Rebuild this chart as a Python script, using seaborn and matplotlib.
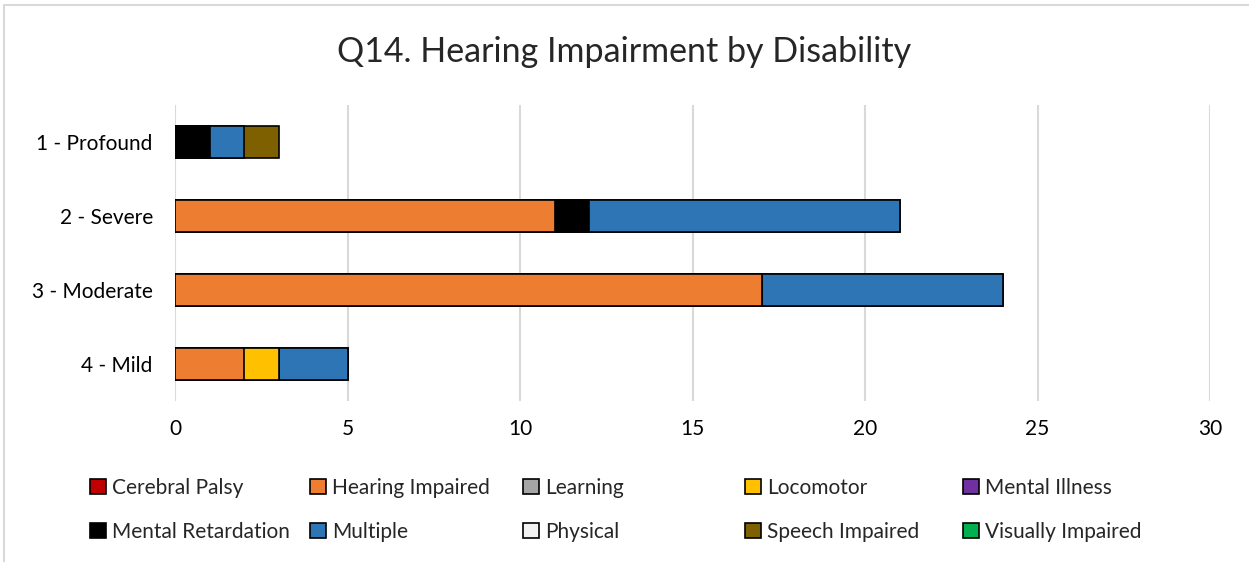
import numpy as np
import pandas as pd
import matplotlib.pyplot as plt
from matplotlib.patches import Rectangle
import seaborn as sns

sns.set_theme(style="white")
plt.rcParams['font.family'] = ['Lato', 'DejaVu Sans']

levels = ["1 - Profound", "2 - Severe", "3 - Moderate", "4 - Mild"]
disabilities = ["Cerebral Palsy", "Hearing Impaired", "Learning", "Locomotor",
                "Mental Illness", "Mental Retardation", "Multiple", "Physical",
                "Speech Impaired", "Visually Impaired"]
colors = ["#C00000", "#ED7D31", "#A5A5A5", "#FFC000", "#7030A0",
          "#000000", "#2E75B6", "#F2F2F2", "#7F6000", "#00B050"]

# counts per level, in the order of `levels`
cerebral_palsy = [0, 0, 0, 0]
hearing_impaired = [0, 11, 17, 2]
learning = [0, 0, 0, 0]
locomotor = [0, 0, 0, 1]
mental_illness = [0, 0, 0, 0]
mental_retardation = [1, 1, 0, 0]
multiple = [1, 9, 7, 2]
physical = [0, 0, 0, 0]
speech_impaired = [1, 0, 0, 0]
visually_impaired = [0, 0, 0, 0]

series = [cerebral_palsy, hearing_impaired, learning, locomotor, mental_illness,
          mental_retardation, multiple, physical, speech_impaired, visually_impaired]

df = pd.DataFrame(np.array(series).T, index=levels, columns=disabilities)
cum = df.cumsum(axis=1)

fig = plt.figure(figsize=(12.49, 5.62), dpi=100)
ax = fig.add_axes([175 / 1249, 1 - 401 / 562, 1035 / 1249, 296 / 562])

# draw cumulative totals from the last series back, so each segment shows
for name, col in reversed(list(zip(disabilities, colors))):
    vals = cum[name]
    if df[name].sum() == 0:
        continue
    sns.barplot(x=vals.values, y=levels, orient="h", color=col, width=0.42,
                edgecolor="black", linewidth=1.2, saturation=1, ax=ax, zorder=3)

ax.set_xlim(0, 30)
ax.set_ylim(3.5, -0.5)
ax.set_xticks(range(0, 31, 5))
ax.grid(axis="x", color="#D9D9D9", linewidth=1.5, zorder=0)
ax.grid(axis="y", visible=False)
for s in ax.spines.values():
    s.set_visible(False)
ax.tick_params(axis="both", length=0, labelsize=15, colors="#000000")
ax.tick_params(axis="x", pad=13)
ax.tick_params(axis="y", pad=16)
ax.set_xlabel("")
ax.set_ylabel("")

fig.text(0.5, 1 - 52 / 562, "Q14. Hearing Impairment by Disability",
         ha="center", va="center", fontsize=24.5)

# legend: two rows, five equal-width columns
col_x = [88, 308, 521, 743, 961]
for j in range(5):
    hs, ls = [], []
    for k in (j, j + 5):
        hs.append(Rectangle((0, 0), 1, 1, facecolor=colors[k], edgecolor="black", linewidth=1.2))
        ls.append(disabilities[k])
    fig.legend(hs, ls, loc="upper left", bbox_to_anchor=(col_x[j] / 1249, 1 - 476 / 562),
               frameon=False, fontsize=15, handlelength=0.75, handleheight=0.75,
               handletextpad=0.3, labelspacing=1.15, borderaxespad=0, borderpad=0.1)

# light chart-area border
fig.add_artist(plt.Line2D([4 / 1249, 1], [1 - 5 / 562, 1 - 5 / 562], color="#D9D9D9", lw=1.5))
fig.add_artist(plt.Line2D([4 / 1249, 4 / 1249], [0, 1 - 5 / 562], color="#D9D9D9", lw=1.5))

fig.savefig("out.png", dpi=100)
